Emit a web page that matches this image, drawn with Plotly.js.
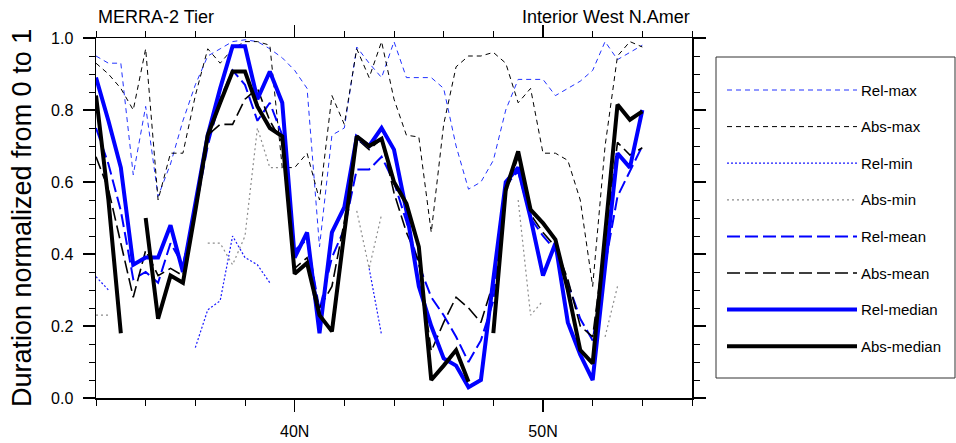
<!DOCTYPE html>
<html>
<head>
<meta charset="utf-8">
<script src="https://cdn.plot.ly/plotly-3.0.1.min.js"></script>
<style>
    body { margin: 0; background: #fff; }
    #chart { width: 956px; height: 443px; }
</style>
</head>
<body>
<div id="chart"></div>
<script>
// latitude (deg N), MERRA-2 grid spacing
let lat = [32, 32.5, 33, 33.5, 34, 34.5, 35, 35.5, 36, 36.5, 37, 37.5, 38, 38.5, 39, 39.5,
    40, 40.5, 41, 41.5, 42, 42.5, 43, 43.5, 44, 44.5, 45, 45.5, 46, 46.5, 47, 47.5,
    48, 48.5, 49, 49.5, 50, 50.5, 51, 51.5, 52, 52.5, 53, 53.5, 54]

let relMax = [.95, .93, .93, .62, .81, .56, .65, .77, .87, .95, .97, .99, .995, .99, .97, .945,
    .91, .86, .42, .73, .75, .975, .93, .89, .99, .89, .89, .89, .86, .70, .58, .60,
    .66, .80, .885, .885, .885, .84, .86, .88, .91, .99, .94, .96, .98]

let absMax = [.93, .90, .86, .80, .97, .55, .68, .68, .84, .97, .93, .97, .99, .99, .98, .64,
    .64, .68, .55, .84, .76, .97, .89, .99, .83, .73, .725, .46, .76, .92, .95, .95,
    .96, .93, .82, .86, .68, .68, .66, .55, .31, .70, .95, .99, .975]

let relMin = [.337, .30, null, null, null, null, null, null, .14, .245, .27, .45, .39, .37, .32, null,
    null, null, null, null, null, null, .36, .175, null, null, null, null, null, null, null, null,
    null, null, null, null, null, null, null, null, null, null, null, null, null]

let absMin = [.23, .23, null, null, null, null, null, null, null, .43, .43, .37, .45, .75, .64, .64,
    null, null, null, null, null, .52, .36, .51, null, null, null, null, null, null, null, null,
    null, null, .55, .23, .27, null, null, null, null, .17, .31, null, null]

let relMean = [.75, .65, .52, .33, .35, .32, .43, .37, .52, .70, .83, .91, .87, .77, .82, .73,
    .41, .44, .245, .39, .47, .635, .635, .67, .60, .49, .37, .28, .23, .17, .10, .16,
    .27, .59, .63, .50, .45, .41, .32, .22, .16, .37, .56, .63, .70]

let absMean = [.67, .58, .43, .28, .41, .34, .36, .34, .52, .73, .76, .76, .83, .86, .77, .71,
    .36, .39, .25, .31, .49, .72, .69, .72, .57, .46, .38, .13, .21, .28, .25, .21,
    .32, .57, .67, .51, .46, .42, .33, .20, .17, .44, .71, .675, .695]

let relMedian = [.89, .77, .64, .37, .39, .39, .48, .35, .54, .73, .86, .977, .977, .83, .907, .82,
    .39, .46, .18, .46, .53, .725, .70, .75, .69, .52, .31, .20, .11, .09, .03, .05,
    .33, .60, .64, .50, .34, .43, .21, .12, .05, .36, .68, .64, .80]

let absMedian = [.84, .55, .18, null, .50, .22, .34, .32, .52, .73, .82, .907, .907, .81, .75, .727,
    .345, .375, .23, .185, .46, .727, .70, .72, .60, .54, .42, .05, .09, .133, .045, null,
    .18, .578, .685, .523, .486, .44, .30, .133, .096, .45, .815, .773, .796]

let names = ['Rel-max', 'Abs-max', 'Rel-min', 'Abs-min', 'Rel-mean', 'Abs-mean', 'Rel-median', 'Abs-median']
let series = [relMax, absMax, relMin, absMin, relMean, absMean, relMedian, absMedian]

let styles = [
    { color: '#2233ff', width: 1, dash: '5px,4px' },
    { color: '#000000', width: 1, dash: '5px,4px' },
    { color: '#1a1aff', width: 1.2, dash: '2px,2px' },
    { color: '#8c8c8c', width: 1.2, dash: '2px,3px' },
    { color: '#0000ff', width: 2, dash: '13px,5px' },
    { color: '#000000', width: 1.6, dash: '13px,5px' },
    { color: '#0000ff', width: 4, dash: 'solid' },
    { color: '#000000', width: 4, dash: 'solid' },
]

let font = 'Liberation Sans, Arial, Helvetica, sans-serif'

let traces = []
for (let i = 0; i < names.length; i++) {
    traces.push({
        x: lat,
        y: series[i],
        name: names[i],
        mode: 'lines',
        line: { color: styles[i].color, width: styles[i].width, dash: styles[i].dash },
        connectgaps: false,
        hoverinfo: 'skip',
    })
}

// plot area is 596 x 360 px, the legend lives right of it in paper coords
let plotW = 596
let plotH = 360
let px = v => (v - 96) / plotW
let py = v => (398 - v) / plotH

let shapes = [{
    type: 'rect', xref: 'paper', yref: 'paper',
    x0: px(716), x1: px(955), y0: py(378), y1: py(57),
    line: { color: '#333', width: 1 }, fillcolor: 'rgba(0,0,0,0)',
}]

let annotations = [
    { text: 'MERRA-2 Tier', x: 0, y: py(17), xanchor: 'left', yanchor: 'middle' },
    { text: 'Interior West N.Amer', x: 1, y: py(17), xanchor: 'right', yanchor: 'middle' },
].map(a => Object.assign(a, { xref: 'paper', yref: 'paper', showarrow: false, font: { family: font, size: 18, color: '#000' } }))

annotations.push({
    text: 'Duration normalized from 0 to 1',
    xref: 'paper', yref: 'paper', x: px(22), y: 0.5,
    xanchor: 'center', yanchor: 'middle', textangle: -90, showarrow: false,
    font: { family: font, size: 27, color: '#000' },
})

for (let i = 0; i < names.length; i++) {
    let rowY = py(90 + i * 36.6)
    shapes.push({
        type: 'line', xref: 'paper', yref: 'paper',
        x0: px(727), x1: px(857), y0: rowY, y1: rowY,
        line: { color: styles[i].color, width: styles[i].width, dash: styles[i].dash },
    })
    annotations.push({
        text: names[i], xref: 'paper', yref: 'paper', x: px(859), y: rowY,
        xanchor: 'left', yanchor: 'middle', showarrow: false,
        font: { family: font, size: 15, color: '#000' },
    })
}

let axisCommon = {
    showgrid: false, zeroline: false,
    showline: true, linecolor: '#000', linewidth: 1.5, mirror: 'ticks',
    ticks: 'outside', ticklen: 12, tickwidth: 1.3, tickcolor: '#000',
    tickfont: { family: font, size: 16, color: '#000' },
}

let layout = {
    width: 956,
    height: 443,
    margin: { l: 96, r: 264, t: 38, b: 45 },
    paper_bgcolor: '#fff',
    plot_bgcolor: '#fff',
    showlegend: false,
    xaxis: Object.assign({}, axisCommon, {
        range: [32, 56], tick0: 0, dtick: 10, ticksuffix: 'N', ticklabelstandoff: 6,
        minor: { tick0: 0, dtick: 2, ticklen: 6, tickcolor: '#000', tickwidth: 1, ticks: 'outside' },
    }),
    yaxis: Object.assign({}, axisCommon, {
        range: [0, 1], tick0: 0, dtick: 0.2, tickformat: '.1f', ticklabelstandoff: 6,
        minor: { tick0: 0, dtick: 0.05, ticklen: 6, tickcolor: '#000', tickwidth: 1, ticks: 'outside' },
    }),
    shapes: shapes,
    annotations: annotations,
}

Plotly.newPlot('chart', traces, layout, { staticPlot: true })
</script>
</body>
</html>
